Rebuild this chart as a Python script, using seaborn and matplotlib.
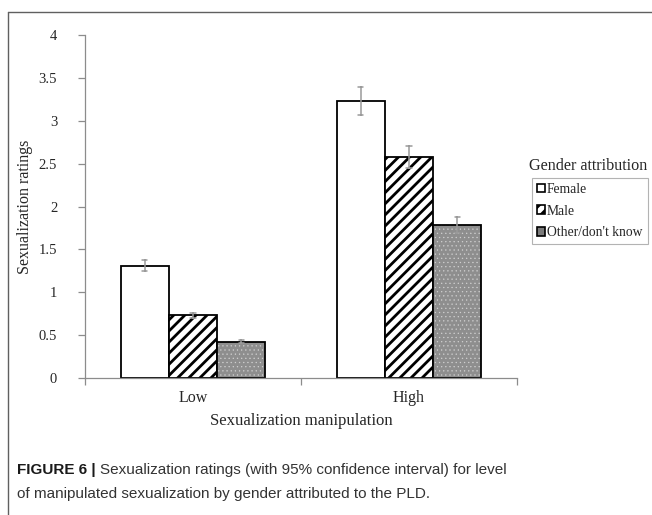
import matplotlib
matplotlib.use("Agg")
import matplotlib.pyplot as plt
from matplotlib.patches import Patch, Rectangle
from matplotlib.lines import Line2D
import numpy as np
import pandas as pd
import seaborn as sns

# Sexualization ratings by manipulation level and attributed gender
levels = ["Low", "High"]
genders = ["Female", "Male", "Other/don't know"]
low_means = [1.31, 0.73, 0.425]
high_means = [3.23, 2.58, 1.785]
low_ci = [0.068, 0.030, 0.020]     # half-width of the 95% CI
high_ci = [0.165, 0.128, 0.090]
y_ticks = [0, 0.5, 1, 1.5, 2, 2.5, 3, 3.5, 4]
y_tick_labels = ["0", "0.5", "1", "1.5", "2", "2.5", "3", "3.5", "4"]

# Long table: each bar is represented by its CI bounds, so the mean is the bar
# height and the min/max of the pair give the interval.
rows = []
for lvl, means, cis in [("Low", low_means, low_ci), ("High", high_means, high_ci)]:
    for g, m, c in zip(genders, means, cis):
        rows.append({"level": lvl, "gender": g, "rating": m - c})
        rows.append({"level": lvl, "gender": g, "rating": m + c})
df = pd.DataFrame(rows)

sns.set_style("white")
plt.rcParams["font.family"] = ["Liberation Serif", "DejaVu Serif"]
plt.rcParams["hatch.linewidth"] = 2.0

fig = plt.figure(figsize=(6.52, 5.15), dpi=100)
ax = fig.add_axes([85 / 652, 1 - 378 / 515, (517 - 85) / 652, (378 - 35) / 515])

sns.barplot(
    data=df, x="level", y="rating", hue="gender",
    order=levels, hue_order=genders,
    estimator="mean", errorbar=lambda v: (v.min(), v.max()),
    width=0.67, gap=0, capsize=0.075,
    err_kws={"color": "#9a9a9a", "linewidth": 1.1},
    palette=["white", "white", "#8e8e8e"],
    edgecolor="black", linewidth=1.3, legend=False, ax=ax,
)

female_bars, male_bars, other_bars = ax.containers[:3]
for p in male_bars:
    p.set_hatch("///")
for p in other_bars:
    # fine light stipple on grey, then a black outline drawn on top
    p.set_edgecolor("#d0d0d0")
    p.set_hatch("....")
    if hasattr(p, "set_hatch_linewidth"):
        p.set_hatch_linewidth(0.4)
    p.set_linewidth(0)
    ax.add_patch(Rectangle((p.get_x(), p.get_y()), p.get_width(), p.get_height(),
                           fill=False, edgecolor="black", linewidth=1.3, zorder=1.5))

ax.set_ylim(0, 4)
ax.set_xlim(-0.5, 1.5)
ax.set_yticks(y_ticks)
ax.set_yticklabels(y_tick_labels)
ax.set_xticks([-0.5, 0.5, 1.5], minor=True)

spine_col = "#8c8c8c"
for s in ["top", "right"]:
    ax.spines[s].set_visible(False)
for s in ["left", "bottom"]:
    ax.spines[s].set_color(spine_col)
    ax.spines[s].set_linewidth(0.9)
ax.tick_params(axis="y", which="major", length=5, width=0.9, color=spine_col,
               direction="out", left=True, labelsize=10.5, pad=15)
ax.tick_params(axis="x", which="major", length=0, labelsize=11.5, pad=9)
ax.tick_params(axis="x", which="minor", length=5, width=0.9, color=spine_col,
               direction="out", bottom=True)

ax.set_ylabel("Sexualization ratings", fontsize=11.5, labelpad=4)
ax.set_xlabel("Sexualization manipulation", fontsize=12, labelpad=5)

# Legend: title sits above an unrounded box
handles = [
    Patch(facecolor="white", edgecolor="black", linewidth=1.2),
    Patch(facecolor="white", edgecolor="black", linewidth=1.2, hatch="///"),
    Patch(facecolor="#7a7a7a", edgecolor="black", linewidth=1.2),
]
leg = ax.legend(
    handles, genders, loc="upper left",
    bbox_to_anchor=(532 / 652, 1 - 178 / 515), bbox_transform=fig.transFigure,
    borderaxespad=0, fontsize=9.8, frameon=True, fancybox=False,
    handlelength=0.6, handleheight=0.6, handletextpad=0.15,
    labelspacing=0.64, borderpad=0.36,
)
leg.get_frame().set_edgecolor("#a0a0a0")
leg.get_frame().set_linewidth(0.8)
fig.text(529 / 652, 1 - 166 / 515, "Gender attribution", fontsize=11.6,
         ha="left", va="center")

# Page frame lines
fig.add_artist(Line2D([8 / 652, 1], [1 - 12 / 515] * 2, transform=fig.transFigure,
                      color="#606060", linewidth=1.0))
fig.add_artist(Line2D([8 / 652] * 2, [1 - 12 / 515, 0], transform=fig.transFigure,
                      color="#606060", linewidth=1.0))

# Caption
cap_font = ["Liberation Sans Narrow", "Liberation Sans", "DejaVu Sans"]
fig.canvas.draw()
r = fig.canvas.get_renderer()
t1 = fig.text(17 / 652, 1 - 470 / 515, "FIGURE 6 |", fontsize=11, fontweight="bold",
              family=cap_font, ha="left", va="center", color="#1a1a1a")
bb = t1.get_window_extent(renderer=r)
fig.text(bb.x1 / 652 + 4 / 652, 1 - 470 / 515,
         "Sexualization ratings (with 95% confidence interval) for level",
         fontsize=11, family=cap_font, ha="left", va="center", color="#333333")
fig.text(17 / 652, 1 - 494 / 515,
         "of manipulated sexualization by gender attributed to the PLD.",
         fontsize=11, family=cap_font, ha="left", va="center", color="#333333")

fig.savefig("out.png", dpi=100)
